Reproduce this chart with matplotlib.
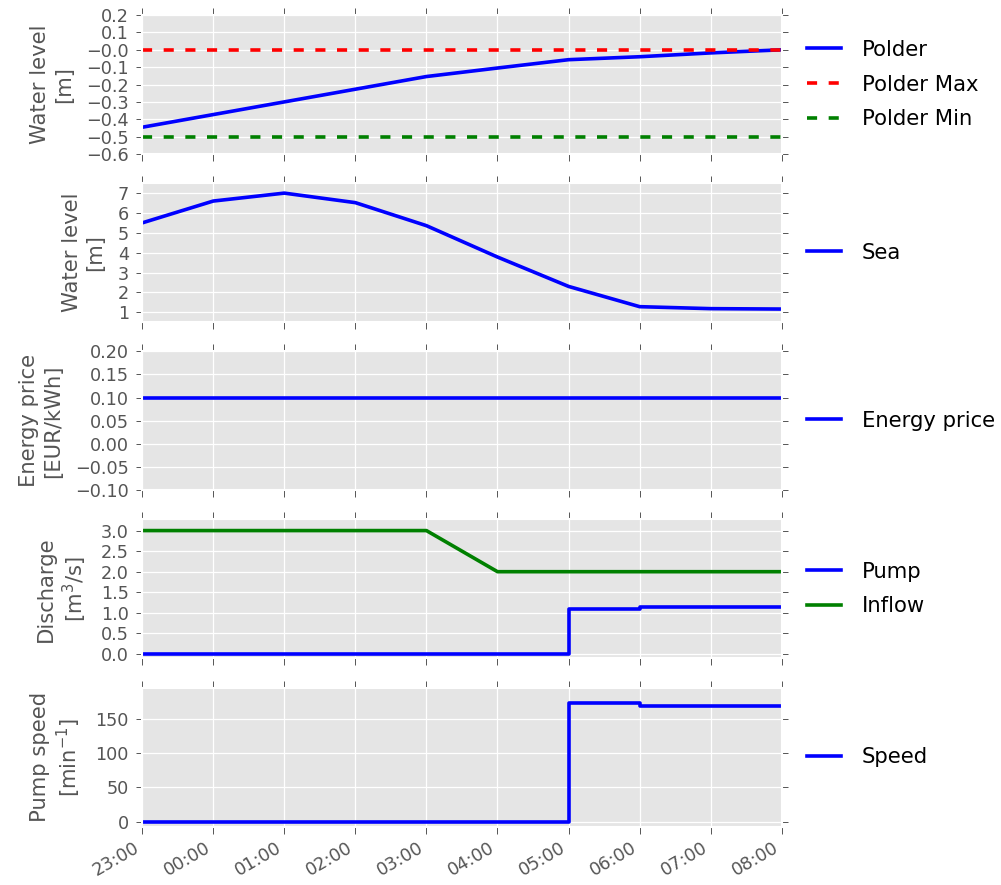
import numpy as np
import pandas as pd
import matplotlib
matplotlib.use("Agg")
import matplotlib.pyplot as plt
import matplotlib.dates as mdates
from matplotlib.ticker import FuncFormatter

# -------------------------------------------------
# Hourly results of the polder pumping run
# -------------------------------------------------

times = pd.date_range("2000-01-01 23:00", periods=10, freq="h")

polder_level = [-0.446, -0.373, -0.30, -0.227, -0.154, -0.105, -0.057, -0.04, -0.018, 0.0]
polder_max = [0.0] * 10
polder_min = [-0.5] * 10

sea_level = [5.5, 6.6, 7.0, 6.52, 5.36, 3.78, 2.3, 1.28, 1.18, 1.16]

energy_price = [0.10] * 10

pump_discharge = [0.0, 0.0, 0.0, 0.0, 0.0, 0.0, 1.10, 1.13, 1.13, 1.13]
inflow = [3.0, 3.0, 3.0, 3.0, 3.0, 2.0, 2.0, 2.0, 2.0, 2.0]

pump_speed = [0, 0, 0, 0, 0, 0, 172, 169, 169, 169]

# -------------------------------------------------
# Style
# -------------------------------------------------

plt.style.use("ggplot")
plt.rcParams.update({
    "font.family": "DejaVu Sans",
    "axes.facecolor": "#E5E5E5",
    "axes.edgecolor": "white",
    "axes.linewidth": 1.5,
    "axes.labelcolor": "#555555",
    "axes.labelsize": 15.2,
    "axes.labelpad": 9,
    "xtick.labelsize": 12.7,
    "ytick.labelsize": 12.7,
    "xtick.color": "#555555",
    "ytick.color": "#555555",
    "xtick.top": True,
    "ytick.right": True,
    "xtick.direction": "out",
    "ytick.direction": "out",
    "xtick.major.size": 5,
    "ytick.major.size": 4,
    "xtick.major.width": 0.7,
    "ytick.major.width": 0.7,
    "ytick.major.pad": 5.5,
    "grid.color": "white",
    "grid.linewidth": 0.9,
    "legend.fontsize": 15.2,
    "text.color": "black",
})

LW = 2.6
dash = (0, (2.8, 3.2))


def tick_fmt(decimals):
    # real minus sign, fixed number of decimals
    def fmt(v, pos):
        s = f"{v:.{decimals}f}"
        if s.startswith("-"):
            s = "\u2212" + s[1:]
        return s
    return FuncFormatter(fmt)


fig, axes = plt.subplots(5, 1, sharex=True, figsize=(10.01, 8.85), dpi=100)
fig.subplots_adjust(left=0.142, right=0.781, top=0.983, bottom=0.066, hspace=0.21)

legend_kw = dict(loc="center left", bbox_to_anchor=(1.0, 0.5), frameon=False,
                 handlelength=1.6, handletextpad=1.0, borderaxespad=0.8,
                 labelspacing=0.7)

# Polder water level
ax = axes[0]
ax.plot(times, polder_level, color="blue", lw=LW, label="Polder")
ax.plot(times, polder_max, color="red", lw=LW, linestyle=dash, label="Polder Max")
ax.plot(times, polder_min, color="green", lw=LW, linestyle=dash, label="Polder Min")
ax.set_ylim(-0.6, 0.2)
ax.set_yticks(np.arange(-0.6, 0.21, 0.1))
ax.yaxis.set_major_formatter(tick_fmt(1))
ax.set_ylabel("Water level\n[m]")
ax.legend(**legend_kw)

# Sea water level
ax = axes[1]
ax.plot(times, sea_level, color="blue", lw=LW, label="Sea")
ax.set_ylim(0.5, 7.5)
ax.set_yticks(range(1, 8))
ax.set_ylabel("Water level\n[m]")
ax.legend(**legend_kw)

# Energy price
ax = axes[2]
ax.plot(times, energy_price, color="blue", lw=LW, label="Energy price")
ax.set_ylim(-0.1, 0.2)
ax.set_yticks(np.arange(-0.10, 0.201, 0.05))
ax.yaxis.set_major_formatter(tick_fmt(2))
ax.set_ylabel("Energy price\n[EUR/kWh]")
ax.legend(**legend_kw)

# Discharge
ax = axes[3]
ax.step(times, pump_discharge, where="post", color="blue", lw=LW, label="Pump")
ax.plot(times, inflow, color="green", lw=LW, label="Inflow")
ax.set_ylim(-0.11, 3.27)
ax.set_yticks(np.arange(0, 3.01, 0.5))
ax.yaxis.set_major_formatter(tick_fmt(1))
ax.set_ylabel("Discharge\n[m$^3$/s]")
ax.legend(**legend_kw)

# Pump speed
ax = axes[4]
ax.step(times, pump_speed, where="post", color="blue", lw=LW, label="Speed")
ax.set_ylim(-7, 195)
ax.set_yticks([0, 50, 100, 150])
ax.set_ylabel("Pump speed\n[min$^{-1}$]")
ax.legend(**legend_kw)

ax.set_xlim(times[0], times[-1])
ax.xaxis.set_major_locator(mdates.HourLocator())
ax.xaxis.set_major_formatter(mdates.DateFormatter("%H:%M"))
for label in ax.get_xticklabels():
    label.set_rotation(30)
    label.set_ha("right")

plt.savefig("out.png", dpi=100)
